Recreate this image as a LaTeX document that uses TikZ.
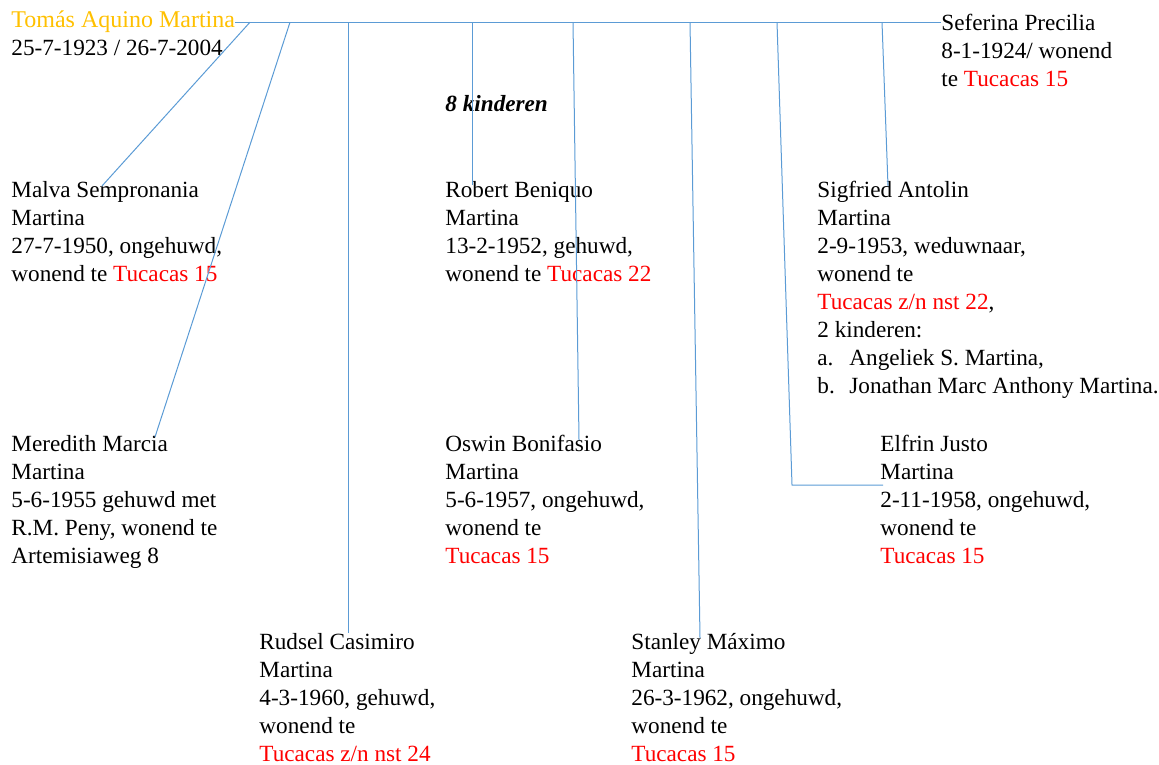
\documentclass[tikz,border=0pt]{standalone}
\usepackage{fontspec}
\setmainfont{Liberation Serif}
\usepackage{tikz}
\usetikzlibrary{calc}

\definecolor{lijnblauw}{RGB}{91,155,213}
\definecolor{goud}{RGB}{255,192,0}
\definecolor{adresrood}{RGB}{255,0,0}
\newcommand{\adres}[1]{\textcolor{adresrood}{#1}}

\begin{document}
\begin{tikzpicture}[x=0.5pt, y=-0.5pt,
  persoon/.style={anchor=north west, inner sep=0pt, align=left, font=\fontsize{11.6}{14}\selectfont},
  lijn/.style={draw=lijnblauw, line width=0.5pt}]

\useasboundingbox (0,0) rectangle (1159,764);

\node [persoon, anchor=base west, text=goud, font=\fontsize{12}{14}\selectfont] (tomas) at (11,28) {Tomás Aquino Martina};
\node [persoon] (tomasdata) at (11,40) {25-7-1923 / 26-7-2004};

\node [persoon] (seferina) at (941,14) {Seferina Precilia\\8-1-1924/ wonend\\te \adres{Tucacas 15}};

\node [persoon, anchor=base west, font=\fontsize{11.6}{14}\selectfont\bfseries\itshape] (kinderen) at (445,112) {8 kinderen};

\node [persoon] (malva) at (11,181) {Malva Sempronania\\Martina\\27-7-1950, ongehuwd,\\wonend te \adres{Tucacas 15}};
\node [persoon] (robert) at (445,181) {Robert Beniquo\\Martina\\13-2-1952, gehuwd,\\wonend te \adres{Tucacas 22}};
\node [persoon] (sigfried) at (817,181) {Sigfried Antolin\\Martina\\2-9-1953, weduwnaar,\\wonend te\\\adres{Tucacas z/n nst 22},\\2 kinderen:\\\makebox[16pt][l]{a.}Angeliek S. Martina,\\\makebox[16pt][l]{b.}Jonathan Marc Anthony Martina.};

\node [persoon] (meredith) at (11,435) {Meredith Marcia\\Martina\\5-6-1955 gehuwd met\\R.M. Peny, wonend te\\Artemisiaweg 8};
\node [persoon] (oswin) at (445,435) {Oswin Bonifasio\\Martina\\5-6-1957, ongehuwd,\\wonend te\\\adres{Tucacas 15}};
\node [persoon] (elfrin) at (880,435) {Elfrin Justo\\Martina\\2-11-1958, ongehuwd,\\wonend te\\\adres{Tucacas 15}};

\node [persoon] (rudsel) at (259,633) {Rudsel Casimiro\\Martina\\4-3-1960, gehuwd,\\wonend te\\\adres{Tucacas z/n nst 24}};
\node [persoon] (stanley) at (631,633) {Stanley Máximo\\Martina\\26-3-1962, ongehuwd,\\wonend te\\\adres{Tucacas 15}};

\foreach \n/\x in {1/250, 2/290, 3/348, 4/472, 5/573, 6/690, 7/777, 8/882} {
\coordinate (t\n) at (\x,0 |- tomas.east);
}

\draw [lijn] (tomas.east) -- (tomas.east -| seferina.west);

\draw [lijn] (t1) -- ($(malva.north west)+(91,5)$);
\draw [lijn] (t2) -- ($(meredith.north west)+(144,2)$);
\draw [lijn] (t3) -- ($(rudsel.north west)+(89,0)$);
\draw [lijn] (t4) -- ($(robert.north west)+(27,4)$);
\draw [lijn] (t5) -- ($(oswin.north west)+(134,5)$);
\draw [lijn] (t6) -- ($(stanley.north west)+(69,5)$);
\draw [lijn] (t7) -- ($(elfrin.north west)+(-88,50)$) -- ($(elfrin.north west)+(3,50)$);
\draw [lijn] (t8) -- ($(sigfried.north west)+(71,5)$);

\end{tikzpicture}
\end{document}
